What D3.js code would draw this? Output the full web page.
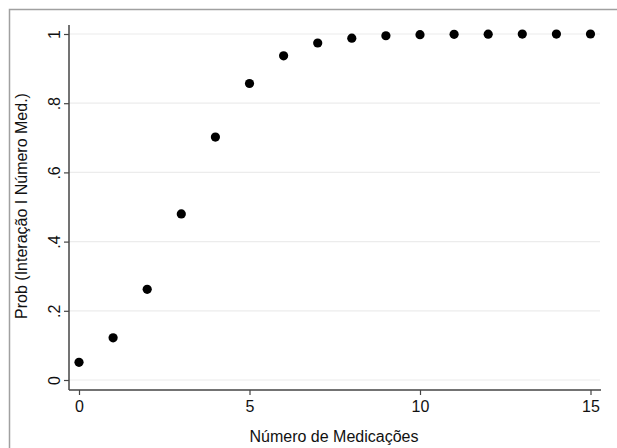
<!DOCTYPE html>
<html>
<head>
<meta charset="utf-8">
<script src="https://cdn.jsdelivr.net/npm/d3@7"></script>
<style>
  body { margin: 0; background: #fff; }
  svg { display: block; font-family: "Liberation Sans", Arial, sans-serif; }
</style>
</head>
<body>
<div id="chart"></div>
<script>
const medications = [0, 1, 2, 3, 4, 5, 6, 7, 8, 9, 10, 11, 12, 13, 14, 15];
const probability = [0.051, 0.122, 0.262, 0.48, 0.702, 0.857, 0.937, 0.974, 0.988, 0.995, 0.998, 0.999, 0.9995, 0.9998, 0.9999, 1.0];
const xTicks = [0, 5, 10, 15];
const yTicks = [0, 0.2, 0.4, 0.6, 0.8, 1];

const width = 617;
const height = 448;

const svg = d3.select('#chart')
    .append('svg')
    .attr('width', width)
    .attr('height', height);

// outer frame (top and left edges visible)
svg.append('path')
    .attr('d', `M9.5,${height} V9.5 H${width}`)
    .attr('fill', 'none')
    .attr('stroke', '#a0a0a0')
    .attr('stroke-width', 1.5);

const xScale = d3.scaleLinear().domain([0, 15]).range([79, 590.5]);
const yScale = d3.scaleLinear().domain([0, 1]).range([380, 34]);

const plotLeft = 69, plotRight = 601, plotTop = 25, plotBottom = 390;

// gridlines
svg.append('g')
    .selectAll('line')
    .data(yTicks)
    .join('line')
    .attr('x1', plotLeft)
    .attr('x2', plotRight - 1)
    .attr('y1', d => yScale(d))
    .attr('y2', d => yScale(d))
    .attr('stroke', '#ececec')
    .attr('stroke-width', 1.2);

const fmtY = d => d === 0 ? '0' : d === 1 ? '1' : d3.format('.1f')(d).replace(/^0/, '');

// y axis
const yAxis = svg.append('g')
    .attr('transform', `translate(${plotLeft},0)`)
    .call(d3.axisLeft(yScale).tickValues(yTicks).tickSize(5).tickFormat(fmtY));
yAxis.select('.domain').remove();
yAxis.append('line')
    .attr('x1', 0).attr('x2', 0)
    .attr('y1', plotTop).attr('y2', plotBottom)
    .attr('stroke', '#444').attr('stroke-width', 1.5);
yAxis.selectAll('.tick line').attr('stroke', '#444').attr('stroke-width', 1.2);
yAxis.selectAll('.tick text')
    .attr('x', 0).attr('dy', 0)
    .attr('transform', 'translate(-9,0) rotate(-90)')
    .attr('text-anchor', 'middle')
    .attr('fill', '#111')
    .style('font-size', '16px');

// x axis
const xAxis = svg.append('g')
    .attr('transform', `translate(0,${plotBottom})`)
    .call(d3.axisBottom(xScale).tickValues(xTicks).tickSize(5).tickFormat(d3.format('d')));
xAxis.select('.domain').remove();
xAxis.append('line')
    .attr('x1', plotLeft).attr('x2', plotRight)
    .attr('y1', 0).attr('y2', 0)
    .attr('stroke', '#444').attr('stroke-width', 1.5);
xAxis.selectAll('.tick line').attr('stroke', '#444').attr('stroke-width', 1.2);
xAxis.selectAll('.tick text')
    .attr('y', 22).attr('dy', 0)
    .attr('fill', '#111')
    .style('font-size', '16px');

// axis titles
svg.append('text')
    .attr('x', 334)
    .attr('y', 442)
    .attr('text-anchor', 'middle')
    .attr('fill', '#111')
    .style('font-size', '16px')
    .text('Número de Medicações');

svg.append('text')
    .attr('transform', `translate(27,206) rotate(-90)`)
    .attr('text-anchor', 'middle')
    .attr('fill', '#111')
    .style('font-size', '16px')
    .text('Prob (Interação I Número Med.)');

// points
svg.append('g')
    .selectAll('circle')
    .data(medications)
    .join('circle')
    .attr('cx', d => xScale(d))
    .attr('cy', (d, i) => yScale(probability[i]))
    .attr('r', 4.6)
    .attr('fill', '#000');
</script>
</body>
</html>
